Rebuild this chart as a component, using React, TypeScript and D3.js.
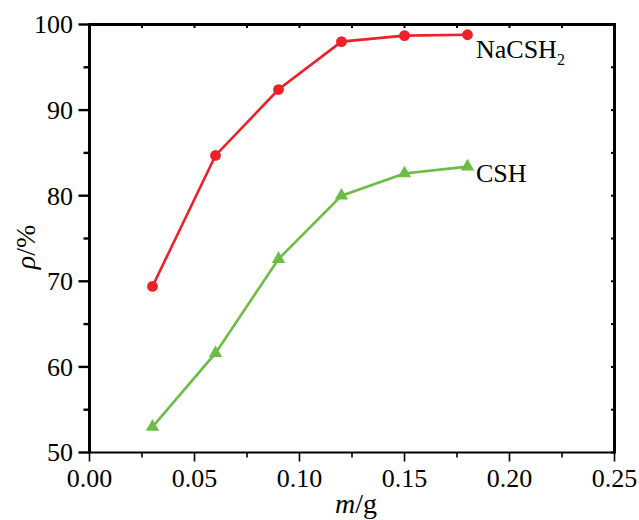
import React, { useEffect, useRef } from "react";
import * as d3 from "d3";

const xValues = [0.03, 0.06, 0.09, 0.12, 0.15, 0.18];
const nacsh2Values = [69.4, 84.7, 92.4, 98.0, 98.7, 98.8];
const cshValues = [53.0, 61.6, 72.6, 80.0, 82.6, 83.4];
const xTicks = [0, 0.05, 0.1, 0.15, 0.2, 0.25];
const yTicks = [50, 60, 70, 80, 90, 100];
const seriesNames = ["NaCSH", "CSH"];

const W = 639;
const H = 520;
const M = { left: 89.5, right: 614.5, top: 24.5, bottom: 452.5 };
const RED = "#ED2228";
const GREEN = "#6CBD45";
const FONT = '"Times New Roman", "Liberation Serif", Times, serif';

export default function App() {
  const ref = useRef<SVGSVGElement>(null);

  useEffect(() => {
    const svg = d3.select(ref.current);
    svg.selectAll("*").remove();

    const x = d3.scaleLinear().domain([0, 0.25]).range([M.left, M.right]);
    const y = d3.scaleLinear().domain([50, 100]).range([M.bottom, M.top]);

    const g = svg.append("g").style("font-family", FONT);

    const xMinor = d3.range(0, 0.2501, 0.025);
    const yMinor = d3.range(50, 100.01, 5);

    xMinor.forEach((v, i) => {
      const major = i % 2 === 0;
      g.append("line")
        .attr("x1", x(v)).attr("x2", x(v))
        .attr("y1", M.bottom).attr("y2", M.bottom + (major ? 9 : 5))
        .attr("stroke", "#000").attr("stroke-width", 1.6);
    });
    yMinor.forEach((v, i) => {
      const major = i % 2 === 0;
      g.append("line")
        .attr("x1", M.left).attr("x2", M.left - (major ? 11 : 6))
        .attr("y1", y(v)).attr("y2", y(v))
        .attr("stroke", "#000").attr("stroke-width", 2.4);
    });
    xMinor.forEach((v) => {
      g.append("line")
        .attr("x1", x(v)).attr("x2", x(v))
        .attr("y1", M.top).attr("y2", M.top + 3.5)
        .attr("stroke", "#000").attr("stroke-width", 2);
    });
    yMinor.forEach((v) => {
      g.append("line")
        .attr("x1", M.right).attr("x2", M.right - 3.5)
        .attr("y1", y(v)).attr("y2", y(v))
        .attr("stroke", "#000").attr("stroke-width", 2);
    });

    g.append("line").attr("x1", M.left - 1).attr("x2", M.right + 1.5)
      .attr("y1", M.top).attr("y2", M.top)
      .attr("stroke", "#000").attr("stroke-width", 3);
    g.append("line").attr("x1", M.left).attr("x2", M.right)
      .attr("y1", M.bottom).attr("y2", M.bottom)
      .attr("stroke", "#000").attr("stroke-width", 1.8);
    g.append("line").attr("x1", M.left).attr("x2", M.left)
      .attr("y1", M.top).attr("y2", M.bottom + 1)
      .attr("stroke", "#000").attr("stroke-width", 3);
    g.append("line").attr("x1", M.right).attr("x2", M.right)
      .attr("y1", M.top - 1.5).attr("y2", M.bottom + 1)
      .attr("stroke", "#000").attr("stroke-width", 3);

    xTicks.forEach((v) => {
      g.append("text")
        .attr("x", x(v)).attr("y", 487)
        .attr("text-anchor", "middle")
        .attr("font-size", 26)
        .attr("fill", "#000")
        .text(d3.format(".2f")(v));
    });
    yTicks.forEach((v) => {
      g.append("text")
        .attr("x", 73).attr("y", y(v))
        .attr("dy", "0.34em")
        .attr("text-anchor", "end")
        .attr("font-size", 26)
        .attr("fill", "#000")
        .text(String(v));
    });

    const xt = g.append("text")
      .attr("x", 356).attr("y", 513)
      .attr("text-anchor", "middle")
      .attr("font-size", 28)
      .attr("fill", "#000");
    xt.append("tspan").attr("font-style", "italic").text("m");
    xt.append("tspan").text("/g");

    const yt = g.append("text")
      .attr("transform", `translate(35, 247) rotate(-90)`)
      .attr("text-anchor", "middle")
      .attr("font-size", 28)
      .attr("fill", "#000");
    yt.append("tspan").attr("font-style", "italic").text("ρ");
    yt.append("tspan").text("/%");

    const line = d3.line<[number, number]>()
      .x((d) => x(d[0]))
      .y((d) => y(d[1]));

    const red: [number, number][] = xValues.map((v, i) => [v, nacsh2Values[i]]);
    const green: [number, number][] = xValues.map((v, i) => [v, cshValues[i]]);

    g.append("path").attr("d", line(red)!)
      .attr("fill", "none").attr("stroke", RED).attr("stroke-width", 2.6);
    red.forEach((d) => {
      g.append("circle").attr("cx", x(d[0])).attr("cy", y(d[1]))
        .attr("r", 5.4).attr("fill", RED);
    });

    g.append("path").attr("d", line(green)!)
      .attr("fill", "none").attr("stroke", GREEN).attr("stroke-width", 2.6);
    const tri = d3.symbol().type(d3.symbolTriangle).size(78);
    green.forEach((d) => {
      g.append("path").attr("d", tri()!)
        .attr("transform", `translate(${x(d[0])},${y(d[1])})`)
        .attr("fill", GREEN);
    });

    const l1 = g.append("text")
      .attr("x", 476).attr("y", 58)
      .attr("font-size", 26)
      .attr("fill", "#000");
    l1.append("tspan").text(seriesNames[0]);
    l1.append("tspan").attr("font-size", 16).attr("dy", 7).text("2");

    g.append("text")
      .attr("x", 476).attr("y", 182)
      .attr("font-size", 26)
      .attr("fill", "#000")
      .text(seriesNames[1]);
  }, []);

  return (
    <svg
      ref={ref}
      width={W}
      height={H}
      style={{ position: "absolute", left: 0, top: 0, background: "#fff" }}
    />
  );
}
